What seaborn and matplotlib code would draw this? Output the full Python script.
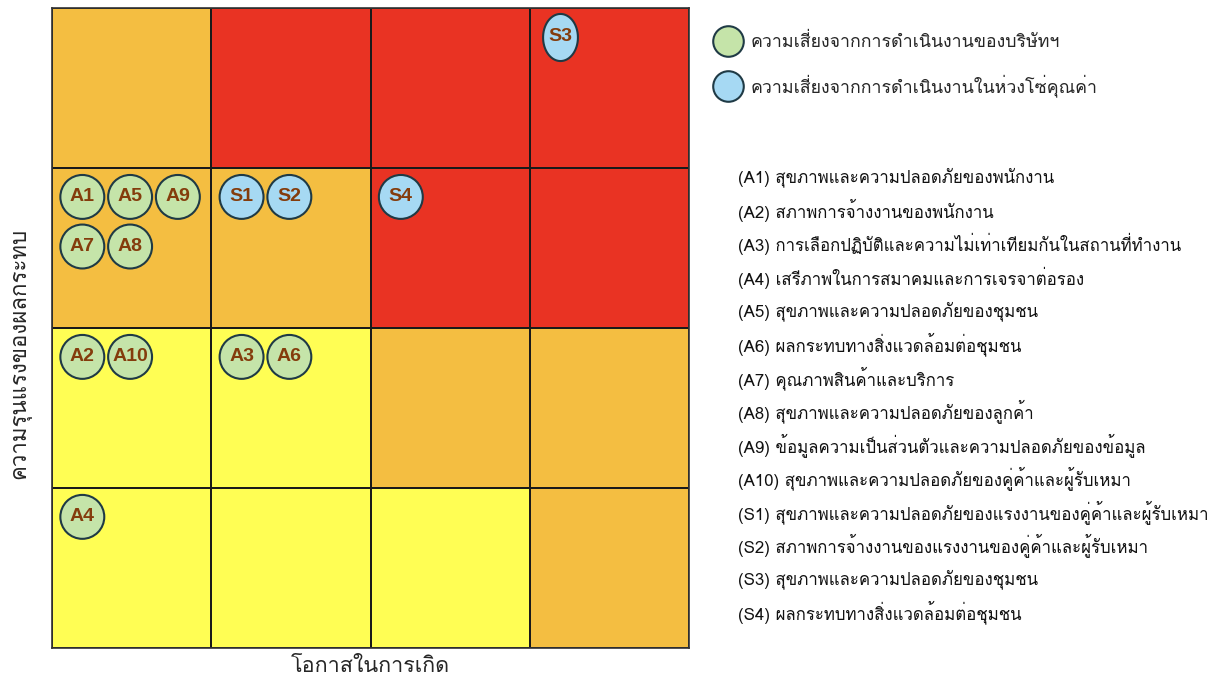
import numpy as np
import pandas as pd
import matplotlib
matplotlib.use('Agg')
import matplotlib.pyplot as plt
import seaborn as sns
from matplotlib import font_manager
from matplotlib.ft2font import FT2Font
from matplotlib.colors import ListedColormap
from matplotlib.lines import Line2D

# risk level per cell, rows from top (impact 4) down, columns likelihood 1..4
# 0 = yellow, 1 = orange, 2 = red
risk_levels = [
    [1, 2, 2, 2],
    [1, 1, 2, 2],
    [0, 0, 1, 1],
    [0, 0, 0, 1],
]
level_colors = ['#FFFE54', '#F4BE41', '#E93323']

risk_codes = ['A1', 'A5', 'A9', 'A7', 'A8', 'S1', 'S2', 'S4',
              'A2', 'A10', 'A3', 'A6', 'A4', 'S3']
likelihood = [1, 1, 1, 1, 1, 2, 2, 3, 1, 1, 2, 2, 1, 4]
impact = [3, 3, 3, 3, 3, 3, 3, 3, 2, 2, 2, 2, 1, 4]
group = ['A', 'A', 'A', 'A', 'A', 'S', 'S', 'S',
         'A', 'A', 'A', 'A', 'A', 'S']

legend_labels = ['ความเสี่ยงจากการดำเนินงานของบริษัทฯ',
                 'ความเสี่ยงจากการดำเนินงานในห่วงโซ่คุณค่า']

descriptions = [
    '(A1) สุขภาพและความปลอดภัยของพนักงาน',
    '(A2) สภาพการจ้างงานของพนักงาน',
    '(A3) การเลือกปฏิบัติและความไม่เท่าเทียมกันในสถานที่ทำงาน',
    '(A4) เสรีภาพในการสมาคมและการเจรจาต่อรอง',
    '(A5) สุขภาพและความปลอดภัยของชุมชน',
    '(A6) ผลกระทบทางสิ่งแวดล้อมต่อชุมชน',
    '(A7) คุณภาพสินค้าและบริการ',
    '(A8) สุขภาพและความปลอดภัยของลูกค้า',
    '(A9) ข้อมูลความเป็นส่วนตัวและความปลอดภัยของข้อมูล',
    '(A10) สุขภาพและความปลอดภัยของคู่ค้าและผู้รับเหมา',
    '(S1) สุขภาพและความปลอดภัยของแรงงานของคู่ค้าและผู้รับเหมา',
    '(S2) สภาพการจ้างงานของแรงงานของคู่ค้าและผู้รับเหมา',
    '(S3) สุขภาพและความปลอดภัยของชุมชน',
    '(S4) ผลกระทบทางสิ่งแวดล้อมต่อชุมชน',
]

x_label = 'โอกาสในการเกิด'
y_label = 'ความรุนแรงของผลกระทบ'

group_colors = {'A': '#C5E4A9', 'S': '#A6D9F3'}


def find_thai_font():
    """หา font ที่มีตัวอักษรไทย"""
    names = []
    for f in font_manager.fontManager.ttflist:
        try:
            cmap = FT2Font(f.fname).get_charmap()
        except Exception:
            continue
        if 0x0E01 in cmap and 0x0E33 in cmap:
            names.append(f.name)
    return names


sns.set_theme(style='white')
thai_fonts = find_thai_font()
plt.rcParams['font.family'] = thai_fonts[:1] + ['DejaVu Sans']

fig = plt.figure(figsize=(12.22, 6.8), dpi=100)
ax = fig.add_axes([0.0426, 0.047, 0.5213, 0.941])

grid = pd.DataFrame(risk_levels, index=[4, 3, 2, 1], columns=[1, 2, 3, 4])
sns.heatmap(grid, cmap=ListedColormap(level_colors), vmin=-0.5, vmax=2.5,
            cbar=False, linewidths=1.2, linecolor='#1a1a1a', ax=ax)
for s in ax.spines.values():
    s.set_visible(True)
    s.set_color('#333333')
    s.set_linewidth(1.2)

# place the circles in slots inside each cell
df = pd.DataFrame({'code': risk_codes, 'like': likelihood,
                   'imp': impact, 'group': group})
df['slot'] = df.groupby(['like', 'imp']).cumcount()
df['px'] = df['like'] - 1 + 0.19 + 0.3 * (df['slot'] % 3)
df['py'] = 4 - df['imp'] + 0.18 + 0.31 * (df['slot'] // 3)

ellipse = [(0.37 * np.cos(t), 0.5 * np.sin(t)) for t in np.linspace(0, 2 * np.pi, 60)]
is_s3 = df['code'] == 'S3'
sns.scatterplot(data=df[~is_s3], x='px', y='py', hue='group', palette=group_colors,
                s=1000, edgecolor='#1F3A45', linewidth=1.5, legend=False, ax=ax, zorder=3)
sns.scatterplot(data=df[is_s3], x='px', y='py', hue='group', palette=group_colors,
                s=1150, marker=ellipse, edgecolor='#1F3A45', linewidth=1.5,
                legend=False, ax=ax, zorder=3)
for _, r in df.iterrows():
    ax.text(r['px'], r['py'], r['code'], ha='center', va='center',
            fontsize=14, fontweight='bold', color='#843C0C',
            family='Liberation Sans', zorder=4)

ax.set_xticks([])
ax.set_yticks([])
ax.set_xlabel(x_label, fontsize=15.5, labelpad=6)
ax.set_ylabel(y_label, fontsize=16)
ax.yaxis.set_label_coords(-0.033, 0.46)

# legend of the two groups
handles = [Line2D([], [], linestyle='none', marker='o', markersize=22,
                  markerfacecolor=group_colors[g], markeredgecolor='#1F3A45',
                  markeredgewidth=1.5) for g in ['A', 'S']]
fig.legend(handles, legend_labels, loc='upper left', bbox_to_anchor=(0.571, 0.975),
           frameon=False, fontsize=12.8, labelspacing=1.3, handletextpad=0.45,
           handlelength=1.6)

# description list
for i, t in enumerate(descriptions):
    fig.text(0.604, 1 - (177 + i * 33.5) / 680, t, fontsize=12.1,
             va='center', ha='left', color='#111111')

plt.savefig('out.png', dpi=100)
plt.close()
